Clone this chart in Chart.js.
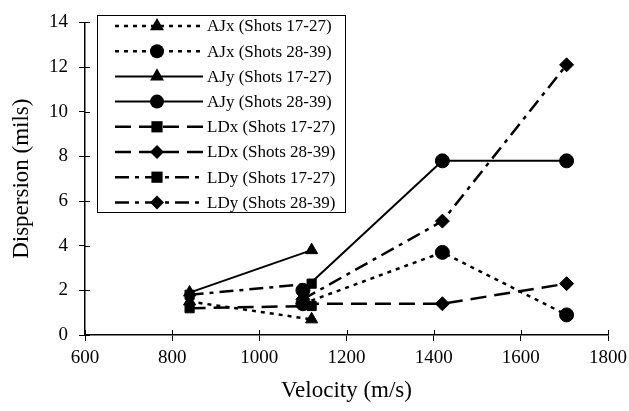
<!DOCTYPE html>
<html lang="en">
<head>
    <meta charset="UTF-8">
    <title>Dispersion vs Velocity</title>
    <script src="https://cdn.jsdelivr.net/npm/chart.js"></script>
    <style>
        html, body { margin: 0; padding: 0; background: #fff; }
        #wrap { width: 629px; height: 411px; position: relative; }
    </style>
</head>
<body>
    <div id="wrap"><canvas id="dispChart"></canvas></div>
    <script>
        // velocities (m/s) for each shot group
        const velShots1727 = [840, 1120];
        const velShots2839 = [1100, 1420, 1705];

        // dispersion values (mils)
        const ajx1727 = [1.5, 0.7];
        const ajx2839 = [1.4, 3.7, 0.9];
        const ajy1727 = [1.9, 3.8];
        const ajy2839 = [2.0, 7.8, 7.8];
        const ldx1727 = [1.2, 1.3];
        const ldx2839 = [1.4, 1.4, 2.3];
        const ldy1727 = [1.8, 2.3];
        const ldy2839 = [1.6, 5.1, 12.1];

        const seriesLabels = [
            "AJx (Shots 17-27)", "AJx (Shots 28-39)",
            "AJy (Shots 17-27)", "AJy (Shots 28-39)",
            "LDx (Shots 17-27)", "LDx (Shots 28-39)",
            "LDy (Shots 17-27)", "LDy (Shots 28-39)"
        ];

        const xTicks = [600, 800, 1000, 1200, 1400, 1600, 1800];
        const yTicks = [0, 2, 4, 6, 8, 10, 12, 14];

        const FONT = "'Liberation Serif', 'Times New Roman', serif";

        function pts(xs, ys) {
            return xs.map((x, i) => ({ x: x, y: ys[i] }));
        }

        const dotted = [4, 5];
        const longDash = [16, 8];
        const dashDot = [14, 6, 4, 6];

        function makeSet(label, data, dash, marker, width) {
            return {
                label: label,
                data: data,
                borderColor: "#000",
                backgroundColor: "#000",
                borderWidth: width,
                borderDash: dash,
                pointStyle: marker,
                pointRadius: marker === "rect" ? 6.5 : 7,
                pointBorderWidth: 1,
                pointBorderColor: "#000",
                pointBackgroundColor: "#000",
                fill: false,
                tension: 0
            };
        }

        const datasets = [
            makeSet(seriesLabels[0], pts(velShots1727, ajx1727), dotted, "triangle", 2.5),
            makeSet(seriesLabels[1], pts(velShots2839, ajx2839), dotted, "circle", 2.5),
            makeSet(seriesLabels[2], pts(velShots1727, ajy1727), [], "triangle", 2),
            makeSet(seriesLabels[3], pts(velShots2839, ajy2839), [], "circle", 2),
            makeSet(seriesLabels[4], pts(velShots1727, ldx1727), longDash, "rect", 2.5),
            makeSet(seriesLabels[5], pts(velShots2839, ldx2839), longDash, "rectRot", 2.5),
            makeSet(seriesLabels[6], pts(velShots1727, ldy1727), dashDot, "rect", 2.5),
            makeSet(seriesLabels[7], pts(velShots2839, ldy2839), dashDot, "rectRot", 2.5)
        ];

        function drawMarker(ctx, style, x, y, r) {
            ctx.beginPath();
            if (style === "circle") {
                ctx.arc(x, y, r, 0, Math.PI * 2);
            } else if (style === "triangle") {
                ctx.moveTo(x, y - r * 1.15);
                ctx.lineTo(x + r, y + r * 0.6);
                ctx.lineTo(x - r, y + r * 0.6);
                ctx.closePath();
            } else if (style === "rect") {
                ctx.rect(x - r * 0.8, y - r * 0.8, r * 1.6, r * 1.6);
            } else {
                ctx.moveTo(x, y - r);
                ctx.lineTo(x + r, y);
                ctx.lineTo(x, y + r);
                ctx.lineTo(x - r, y);
                ctx.closePath();
            }
            ctx.fill();
        }

        // legend box drawn inside the plot area
        const boxLegend = {
            id: "boxLegend",
            afterDraw(chart) {
                const ctx = chart.ctx;
                const left = 97, top = 15, w = 248, h = 197;
                ctx.save();
                ctx.fillStyle = "#fff";
                ctx.fillRect(left, top, w, h);
                ctx.strokeStyle = "#000";
                ctx.lineWidth = 1;
                ctx.strokeRect(left + 0.5, top + 0.5, w, h);
                ctx.font = "17px " + FONT;
                ctx.textBaseline = "middle";
                chart.data.datasets.forEach((ds, i) => {
                    const y = top + 11 + i * 25.2;
                    ctx.strokeStyle = "#000";
                    ctx.lineWidth = ds.borderWidth;
                    ctx.setLineDash(ds.borderDash);
                    ctx.beginPath();
                    ctx.moveTo(left + 18, y);
                    ctx.lineTo(left + 106, y);
                    ctx.stroke();
                    ctx.setLineDash([]);
                    ctx.fillStyle = "#000";
                    drawMarker(ctx, ds.pointStyle, left + 60, y, 7);
                    ctx.fillText(ds.label, left + 110, y + 1);
                });
                ctx.restore();
            }
        };

        // short tick marks on the inside of each axis
        const innerTicks = {
            id: "innerTicks",
            afterDraw(chart) {
                const ctx = chart.ctx;
                const xs = chart.scales.x, ys = chart.scales.y;
                ctx.save();
                ctx.strokeStyle = "#000";
                ctx.lineWidth = 1;
                xTicks.forEach(v => {
                    const px = Math.round(xs.getPixelForValue(v)) + 0.5;
                    ctx.beginPath();
                    ctx.moveTo(px, ys.bottom);
                    ctx.lineTo(px, ys.bottom - 5);
                    ctx.stroke();
                });
                yTicks.forEach(v => {
                    const py = Math.round(ys.getPixelForValue(v)) + 0.5;
                    ctx.beginPath();
                    ctx.moveTo(xs.left, py);
                    ctx.lineTo(xs.left + 5, py);
                    ctx.stroke();
                });
                ctx.restore();
            }
        };

        const ctx = document.getElementById("dispChart").getContext("2d");
        new Chart(ctx, {
            type: "line",
            data: { datasets: datasets },
            options: {
                responsive: true,
                maintainAspectRatio: false,
                animation: false,
                layout: { padding: { top: 12, right: 21, bottom: 6, left: 8 } },
                plugins: {
                    legend: { display: false },
                    tooltip: { enabled: false }
                },
                scales: {
                    x: {
                        type: "linear",
                        min: 600,
                        max: 1800,
                        afterBuildTicks: s => { s.ticks = xTicks.map(v => ({ value: v })); },
                        afterFit: s => { s.height = 70; s.paddingRight = 0; s.paddingLeft = 0; },
                        ticks: {
                            color: "#000",
                            font: { family: FONT, size: 19 },
                            padding: 6,
                            callback: v => String(v)
                        },
                        grid: {
                            drawOnChartArea: false,
                            drawTicks: true,
                            tickLength: 6,
                            color: "#000"
                        },
                        border: { color: "#000", width: 1.5 },
                        title: {
                            display: true,
                            text: "Velocity (m/s)",
                            color: "#000",
                            font: { family: FONT, size: 23 },
                            padding: { top: 4, bottom: 0 }
                        }
                    },
                    y: {
                        min: 0,
                        max: 14,
                        afterBuildTicks: s => { s.ticks = yTicks.map(v => ({ value: v })); },
                        afterFit: s => { s.width = 77; },
                        ticks: {
                            color: "#000",
                            font: { family: FONT, size: 19 },
                            padding: 11,
                            callback: v => String(v)
                        },
                        grid: {
                            drawOnChartArea: false,
                            drawTicks: true,
                            tickLength: 6,
                            color: "#000"
                        },
                        border: { color: "#000", width: 1.5 },
                        title: {
                            display: true,
                            text: "Dispersion (mils)",
                            color: "#000",
                            font: { family: FONT, size: 23 },
                            padding: { top: 0, bottom: 6 }
                        }
                    }
                }
            },
            plugins: [boxLegend, innerTicks]
        });
    </script>
</body>
</html>
